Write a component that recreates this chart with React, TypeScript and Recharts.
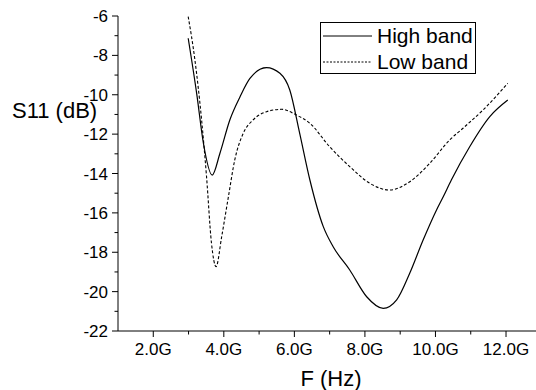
import React from "react";
import { LineChart, Line, XAxis, YAxis, Legend, Label } from "recharts";

const highFreq = [2.99, 3.23, 3.42, 3.67, 3.89, 4.17, 4.46, 4.74, 5.21, 5.59, 5.87, 6.14, 6.44, 6.82, 7.1, 7.57, 8.05, 8.52, 8.9, 9.27, 9.65, 10.03, 10.22, 10.45, 10.97, 11.54, 12.05];
const highS11 = [-7.13, -9.93, -12.45, -14.08, -12.97, -11.28, -10.1, -9.17, -8.62, -8.91, -9.76, -11.87, -14.33, -16.7, -17.72, -18.9, -20.26, -20.85, -20.42, -19.07, -17.38, -15.85, -15.18, -14.33, -12.64, -11.11, -10.27];

const lowFreq = [2.99, 3.18, 3.37, 3.51, 3.65, 3.78, 3.94, 4.13, 4.31, 4.55, 4.83, 5.21, 5.64, 6.06, 6.44, 7.0, 7.57, 8.14, 8.7, 9.27, 9.84, 10.4, 10.78, 11.35, 12.05];
const lowS11 = [-6.03, -8.23, -11.28, -14.16, -17.54, -18.73, -17.2, -15.18, -13.31, -11.96, -11.28, -10.86, -10.74, -11.03, -11.45, -12.64, -13.65, -14.5, -14.84, -14.42, -13.48, -12.3, -11.7, -10.77, -9.42];

const xTicks = [2, 3, 4, 5, 6, 7, 8, 9, 10, 11, 12];
const yTicks = [-22, -21, -20, -19, -18, -17, -16, -15, -14, -13, -12, -11, -10, -9, -8, -7, -6];
const seriesNames = ["High band", "Low band"];

const highData = highFreq.map((f, i) => ({ f, s: highS11[i] }));
const lowData = lowFreq.map((f, i) => ({ f, s: lowS11[i] }));

const FONT = "'Liberation Sans', Arial, sans-serif";

const XTick = (props: any) => {
  const { x, y, payload } = props;
  const v = payload.value;
  const major = v % 2 === 0;
  return (
    <g>
      <line x1={x} x2={x} y1={y} y2={y + (major ? 6 : 3.5)} stroke="#000" strokeWidth={1} />
      {major && (
        <text x={x} y={y + 24} textAnchor="middle" fontFamily={FONT} fontSize={17} fill="#000">
          {v.toFixed(1) + "G"}
        </text>
      )}
    </g>
  );
};

const YTick = (props: any) => {
  const { x, y, payload } = props;
  const v = payload.value;
  const major = v % 2 === 0;
  return (
    <g>
      <line x1={x} x2={x - (major ? 6 : 3.5)} y1={y} y2={y} stroke="#000" strokeWidth={1} />
      {major && (
        <text x={x - 10} y={y + 6} textAnchor="end" fontFamily={FONT} fontSize={17} fill="#000">
          {String(v)}
        </text>
      )}
    </g>
  );
};

const LegendBox = () => (
  <div
    style={{
      border: "1px solid #000",
      width: 154,
      height: 50,
      background: "#fff",
      fontFamily: FONT,
      fontSize: 21,
      color: "#000",
      position: "relative",
    }}
  >
    {seriesNames.map((name, i) => (
      <div key={name} style={{ position: "absolute", left: 0, top: i === 0 ? 1 : 27, height: 24, display: "flex", alignItems: "center" }}>
        <svg width={52} height={24} style={{ display: "block" }}>
          <line x1={2} x2={51} y1={12} y2={12} stroke="#000" strokeWidth={1} strokeDasharray={i === 0 ? undefined : "2 1.5"} />
        </svg>
        <span style={{ marginLeft: 4, lineHeight: "24px", whiteSpace: "nowrap" }}>{name}</span>
      </div>
    ))}
  </div>
);

export default function App() {
  return (
    <div style={{ position: "absolute", left: 0, top: 0, width: 536, height: 390, overflow: "hidden", background: "#fff" }}>
      <LineChart width={536} height={390} margin={{ top: 16, right: 0, bottom: 0, left: 0 }}>
        <XAxis
          type="number"
          dataKey="f"
          domain={[1, 12.85]}
          ticks={xTicks}
          allowDataOverflow
          tickLine={false}
          tickSize={0}
          tickMargin={0}
          tick={<XTick />}
          height={59}
          stroke="#000"
          interval={0}
        >
          <Label
            content={() => (
              <text x={331} y={386} textAnchor="middle" fontFamily={FONT} fontSize={22} fill="#000">
                F (Hz)
              </text>
            )}
          />
        </XAxis>
        <YAxis
          type="number"
          dataKey="s"
          domain={[-22, -6]}
          ticks={yTicks}
          allowDataOverflow
          tickLine={false}
          tickSize={0}
          tickMargin={0}
          tick={<YTick />}
          width={118}
          stroke="#000"
          interval={0}
        >
          <Label
            content={() => (
              <text x={12} y={118} textAnchor="start" fontFamily={FONT} fontSize={22} fill="#000">
                S11 (dB)
              </text>
            )}
          />
        </YAxis>
        <Legend
          layout="vertical"
          align="center"
          verticalAlign="middle"
          content={<LegendBox />}
          wrapperStyle={{ left: 320, top: 22, width: 156, height: 52 }}
        />
        <Line
          name={seriesNames[0]}
          data={highData}
          dataKey="s"
          type="monotone"
          stroke="#000"
          strokeWidth={1.2}
          dot={false}
          isAnimationActive={false}
        />
        <Line
          name={seriesNames[1]}
          data={lowData}
          dataKey="s"
          type="monotone"
          stroke="#000"
          strokeWidth={1.1}
          strokeDasharray="3 2"
          dot={false}
          isAnimationActive={false}
        />
      </LineChart>
    </div>
  );
}
